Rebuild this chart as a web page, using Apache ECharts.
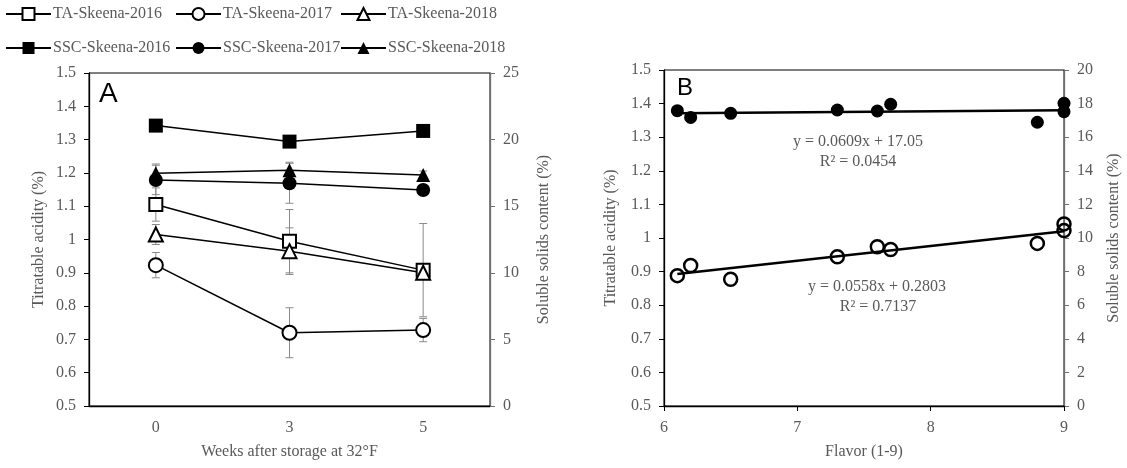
<!DOCTYPE html>
<html>
<head>
<meta charset="utf-8">
<script src="https://cdn.jsdelivr.net/npm/echarts@6/dist/echarts.min.js"></script>
<style>
html,body{margin:0;padding:0;background:#fff;}
#chart{width:1127px;height:468px;}
</style>
</head>
<body>
<div id="chart"></div>
<script>
// ---------- Panel A data ----------
var weeks = ['0', '3', '5'];
var taSkeena2016 = [1.105, 0.995, 0.908];
var taSkeena2017 = [0.923, 0.720, 0.728];
var taSkeena2018 = [1.015, 0.965, 0.900];
var taErr2016 = [0.05, 0.095, 0.14];
var taErr2017 = [0.038, 0.075, 0.035];
var taErr2018 = [0.03, 0.07, 0.02];
var sscSkeena2016 = [21.05, 19.85, 20.65];
var sscSkeena2017 = [16.97, 16.72, 16.22];
var sscSkeena2018 = [17.47, 17.70, 17.34];
var sscErr2016 = [0.2, 0.2, 0.2];
var sscErr2017 = [1.1, 1.5, 0.3];
var sscErr2018 = [0.7, 0.6, 0.3];
var taTicksA = [0.5, 1.5, 0.1];
var sscTicksA = [0, 25, 5];

// ---------- Panel B data ----------
var flavorTA = [6.1, 6.2, 6.5, 7.3, 7.6, 7.7, 8.8, 9.0, 9.0];
var taB = [0.888, 0.918, 0.877, 0.944, 0.974, 0.966, 0.984, 1.042, 1.022];
var flavorSSC = [6.1, 6.2, 6.5, 7.3, 7.6, 7.7, 8.8, 9.0, 9.0];
var sscB = [17.58, 17.18, 17.42, 17.62, 17.56, 17.96, 16.89, 18.02, 17.52];
var trendX = [6.1, 9.0];
var trendTA = [0.893, 1.020];
var trendSSC = [17.42, 17.60];
var flavorTicks = [6, 9, 1];
var taTicksB = [0.5, 1.5, 0.1];
var sscTicksB = [0, 20, 2];
var eqSSC = 'y = 0.0609x + 17.05';
var r2SSC = 'R² = 0.0454';
var eqTA = 'y = 0.0558x + 0.2803';
var r2TA = 'R² = 0.7137';

var GREY = '#595959';
var FONT = 'Liberation Serif';

function pairs(xs, ys){ return xs.map(function(x,i){ return [x, ys[i]]; }); }
function errData(vals, errs){ return vals.map(function(v,i){ return [i, v - errs[i], v + errs[i]]; }); }

function errRender(params, api){
  var x = api.value(0), lo = api.value(1), hi = api.value(2);
  var p1 = api.coord([x, hi]), p2 = api.coord([x, lo]);
  var w = 4;
  var st = {stroke:'#8a8a8a', lineWidth:1};
  return {type:'group', children:[
    {type:'line', shape:{x1:p1[0], y1:p1[1], x2:p2[0], y2:p2[1]}, style:st},
    {type:'line', shape:{x1:p1[0]-w, y1:p1[1], x2:p1[0]+w, y2:p1[1]}, style:st},
    {type:'line', shape:{x1:p2[0]-w, y1:p2[1], x2:p2[0]+w, y2:p2[1]}, style:st}
  ]};
}

var openStyle = {color:'#fff', borderColor:'#000', borderWidth:2, opacity:1};
var fillStyle = {color:'#000', borderColor:'#000', borderWidth:0, opacity:1};
var lineA = {color:'#000', width:1.5};

function lineSeries(name, data, yIdx, symbol, size, item){
  return {name:name, type:'line', xAxisIndex:0, yAxisIndex:yIdx, data:data,
    symbol:symbol, symbolSize:size, showAllSymbol:true, lineStyle:lineA, itemStyle:item,
    z:5, animation:false, emphasis:{disabled:true}};
}
function errSeries(data, yIdx){
  return {type:'custom', xAxisIndex:0, yAxisIndex:yIdx, renderItem:errRender, data:data,
    z:2, animation:false, silent:true};
}

var nameStyle = {color:GREY, fontFamily:FONT, fontSize:16};

function yAxisDef(gridIndex, ticks, pos, lineColor, name, gap){
  return {type:'value', gridIndex:gridIndex, position:pos, min:ticks[0], max:ticks[1], interval:ticks[2],
    name:name, nameLocation:'middle', nameGap:gap, nameTextStyle:nameStyle,
    axisLine:{show:true, lineStyle:{color:lineColor, width:1.3}},
    axisTick:{show:true, inside:false, length:5, lineStyle:{color:lineColor}},
    axisLabel:{margin:13, color:GREY, fontFamily:FONT, fontSize:16},
    splitLine:{show:false}};
}

var legendNames = [
  ['TA-Skeena-2016', 5, 6], ['TA-Skeena-2017', 175, 6], ['TA-Skeena-2018', 340, 6],
  ['SSC-Skeena-2016', 5, 40], ['SSC-Skeena-2017', 175, 40], ['SSC-Skeena-2018', 340, 40]
];
var legends = legendNames.map(function(l){
  return {data:[l[0]], left:l[1], top:l[2], padding:0, itemWidth:45, itemHeight:15, itemGap:0,
    selectedMode:false, textStyle:{color:GREY, fontFamily:FONT, fontSize:16, padding:[0,0,0,-3]}};
});

var option = {
  backgroundColor:'#fff',
  animation:false,
  textStyle:{fontFamily:FONT},
  legend: legends,
  grid:[
    {left:89, top:73, width:401, height:333, show:true, borderColor:'#000', borderWidth:1, backgroundColor:'transparent', containLabel:false},
    {left:664, top:70, width:400, height:336, show:true, borderColor:'#000', borderWidth:1, backgroundColor:'transparent', containLabel:false}
  ],
  xAxis:[
    {type:'category', gridIndex:0, data:weeks, boundaryGap:true,
      name:'Weeks after storage at 32°F', nameLocation:'middle', nameGap:38, nameTextStyle:nameStyle,
      axisLine:{lineStyle:{color:'#000', width:1.3}},
      axisTick:{alignWithLabel:true, length:5, lineStyle:{color:'#000'}},
      axisLabel:{margin:14, color:GREY, fontFamily:FONT, fontSize:16}},
    {type:'value', gridIndex:1, min:flavorTicks[0], max:flavorTicks[1], interval:flavorTicks[2],
      name:'Flavor (1-9)', nameLocation:'middle', nameGap:38, nameTextStyle:nameStyle,
      axisLine:{onZero:false, lineStyle:{color:'#000', width:1.3}},
      axisTick:{length:5, lineStyle:{color:'#000'}},
      axisLabel:{margin:14, color:GREY, fontFamily:FONT, fontSize:16},
      splitLine:{show:false}}
  ],
  yAxis:[
    yAxisDef(0, taTicksA, 'left', '#000', 'Titratable acidity (%)', 42),
    yAxisDef(0, sscTicksA, 'right', '#6f6f6f', 'Soluble solids content (%)', 46),
    yAxisDef(1, taTicksB, 'left', '#000', 'Titratable acidity (%)', 45),
    yAxisDef(1, sscTicksB, 'right', '#6f6f6f', 'Soluble solids content (%)', 42)
  ],
  series:[
    errSeries(errData(taSkeena2016, taErr2016), 0),
    errSeries(errData(taSkeena2017, taErr2017), 0),
    errSeries(errData(taSkeena2018, taErr2018), 0),
    errSeries(errData(sscSkeena2016, sscErr2016), 1),
    errSeries(errData(sscSkeena2017, sscErr2017), 1),
    errSeries(errData(sscSkeena2018, sscErr2018), 1),
    lineSeries('TA-Skeena-2016', taSkeena2016, 0, 'rect', 13, openStyle),
    lineSeries('TA-Skeena-2017', taSkeena2017, 0, 'circle', 14, openStyle),
    lineSeries('TA-Skeena-2018', taSkeena2018, 0, 'triangle', 14, openStyle),
    lineSeries('SSC-Skeena-2016', sscSkeena2016, 1, 'rect', 14, fillStyle),
    lineSeries('SSC-Skeena-2017', sscSkeena2017, 1, 'circle', 14, fillStyle),
    lineSeries('SSC-Skeena-2018', sscSkeena2018, 1, 'triangle', 14, fillStyle),
    {name:'trendTA', type:'line', xAxisIndex:1, yAxisIndex:2, data:pairs(trendX, trendTA), symbol:'none',
      lineStyle:{color:'#000', width:2.5}, z:3, silent:true},
    {name:'trendSSC', type:'line', xAxisIndex:1, yAxisIndex:3, data:pairs(trendX, trendSSC), symbol:'none',
      lineStyle:{color:'#000', width:2.5}, z:3, silent:true},
    {name:'TA-B', type:'scatter', xAxisIndex:1, yAxisIndex:2, data:pairs(flavorTA, taB), symbol:'circle', symbolSize:13,
      itemStyle:{color:'transparent', borderColor:'#000', borderWidth:2.5, opacity:1}, z:4, silent:true},
    {name:'SSC-B', type:'scatter', xAxisIndex:1, yAxisIndex:3, data:pairs(flavorSSC, sscB), symbol:'circle', symbolSize:13,
      itemStyle:{color:'#000', opacity:1}, z:4, silent:true}
  ],
  graphic:[
    {type:'text', left:99, top:80, style:{text:'A', fontFamily:'Liberation Sans', fontSize:28, fill:'#000'}},
    {type:'text', left:677, top:76, style:{text:'B', fontFamily:'Liberation Sans', fontSize:24, fill:'#000'}},
    {type:'text', x:858, y:142, style:{text:eqSSC, fontFamily:FONT, fontSize:16, fill:GREY, align:'center', verticalAlign:'middle'}},
    {type:'text', x:858, y:162, style:{text:r2SSC, fontFamily:FONT, fontSize:16, fill:GREY, align:'center', verticalAlign:'middle'}},
    {type:'text', x:877, y:287, style:{text:eqTA, fontFamily:FONT, fontSize:16, fill:GREY, align:'center', verticalAlign:'middle'}},
    {type:'text', x:878, y:307, style:{text:r2TA, fontFamily:FONT, fontSize:16, fill:GREY, align:'center', verticalAlign:'middle'}}
  ]
};

var chart = echarts.init(document.getElementById('chart'), null, {renderer:'canvas'});
chart.setOption(option);
</script>
</body>
</html>
